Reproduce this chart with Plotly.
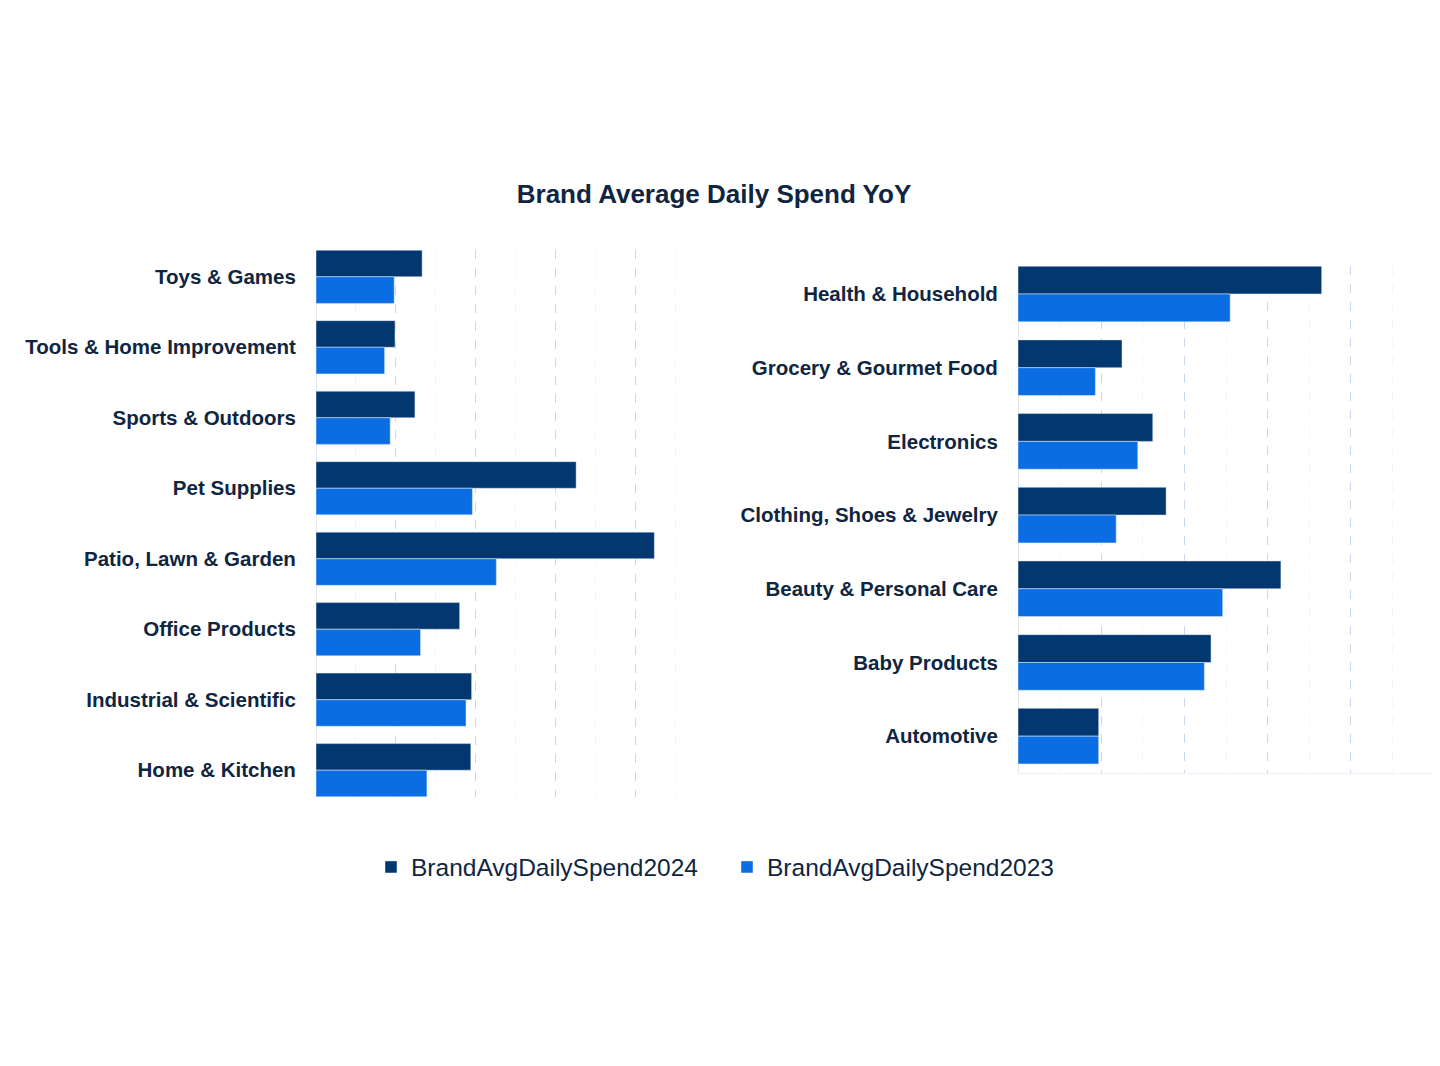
import plotly.graph_objects as go

left_categories = ["Toys & Games", "Tools & Home Improvement", "Sports & Outdoors", "Pet Supplies",
                   "Patio, Lawn & Garden", "Office Products", "Industrial & Scientific", "Home & Kitchen"]
left_2024 = [1.33, 0.99, 1.24, 3.26, 4.24, 1.80, 1.95, 1.94]
left_2023 = [0.98, 0.86, 0.93, 1.96, 2.26, 1.31, 1.88, 1.39]

right_categories = ["Health & Household", "Grocery & Gourmet Food", "Electronics", "Clothing, Shoes & Jewelry",
                    "Beauty & Personal Care", "Baby Products", "Automotive"]
right_2024 = [3.65, 1.25, 1.62, 1.78, 3.16, 2.32, 0.97]
right_2023 = [2.55, 0.93, 1.44, 1.18, 2.46, 2.24, 0.97]

name_2024 = "BrandAvgDailySpend2024"
name_2023 = "BrandAvgDailySpend2023"
c2024 = "#02376f"
c2023 = "#0a6de4"
text_color = "#0f2540"
font_family = "Liberation Sans, Arial, sans-serif"

fig = go.Figure()
fig.add_trace(go.Bar(y=left_categories, x=left_2024, orientation="h", name=name_2024,
                     marker=dict(color=c2024), xaxis="x", yaxis="y", legend="legend"))
fig.add_trace(go.Bar(y=left_categories, x=left_2023, orientation="h", name=name_2023,
                     marker=dict(color=c2023), xaxis="x", yaxis="y", legend="legend2"))
fig.add_trace(go.Bar(y=right_categories, x=right_2024, orientation="h", name=name_2024,
                     marker=dict(color=c2024), xaxis="x2", yaxis="y2", showlegend=False, offsetgroup="a"))
fig.add_trace(go.Bar(y=right_categories, x=right_2023, orientation="h", name=name_2023,
                     marker=dict(color=c2023), xaxis="x2", yaxis="y2", showlegend=False, offsetgroup="b"))
fig.data[0].offsetgroup = "a"
fig.data[1].offsetgroup = "b"

W = 1424.0
H = 1050.0
OFF = 8.0  # page body margin


def px_x(v):
    return min(1.0, (v - OFF) / W)


def px_y(v):
    return 1 - (v - OFF) / H


xcommon = dict(showticklabels=False, showgrid=True, griddash="dash",
               gridcolor="#c9d8e8", gridwidth=1, dtick=1, zeroline=True, zerolinecolor="#e3e8ee",
               zerolinewidth=1, fixedrange=True,
               minor=dict(dtick=0.5, showgrid=True, gridcolor="#f3f5f8", gridwidth=1))
ycommon = dict(showgrid=False, ticks="outside", ticklen=15, tickcolor="rgba(0,0,0,0)",
               tickfont=dict(size=20.5, color=text_color, family=font_family, weight="bold"))

right_end = 1432.0
right_range_max = 5 * (right_end - 1018) / (1434 - 1018)

fig.update_layout(
    width=int(W), height=int(H),
    margin=dict(l=0, r=0, t=0, b=0),
    paper_bgcolor="white", plot_bgcolor="white",
    barmode="group", bargap=0.245, bargroupgap=0,
    font=dict(family=font_family, color=text_color),
    title=dict(text="<b>Brand Average Daily Spend YoY</b>", x=px_x(714), xanchor="center",
               y=px_y(194), yanchor="middle", font=dict(size=26, color=text_color, family=font_family)),
    xaxis=dict(domain=[px_x(316), px_x(715)], range=[0, 5], anchor="y", **xcommon),
    yaxis=dict(domain=[px_y(797), px_y(250)], range=[7.38, -0.38], anchor="x", **ycommon),
    xaxis2=dict(domain=[px_x(1018), px_x(right_end)], range=[0, right_range_max], anchor="y2",
                showline=True, linecolor="#eef1f5", linewidth=1, **xcommon),
    yaxis2=dict(domain=[px_y(773), px_y(266)], range=[6.5, -0.38], anchor="x2", **ycommon),
    legend=dict(x=px_x(371), xanchor="left", y=px_y(867), yanchor="middle",
                font=dict(size=24.5, color=text_color, family=font_family), bgcolor="rgba(0,0,0,0)"),
    legend2=dict(x=px_x(727), xanchor="left", y=px_y(867), yanchor="middle",
                 font=dict(size=24.5, color=text_color, family=font_family), bgcolor="rgba(0,0,0,0)"),
)

fig.write_html("out.html")
